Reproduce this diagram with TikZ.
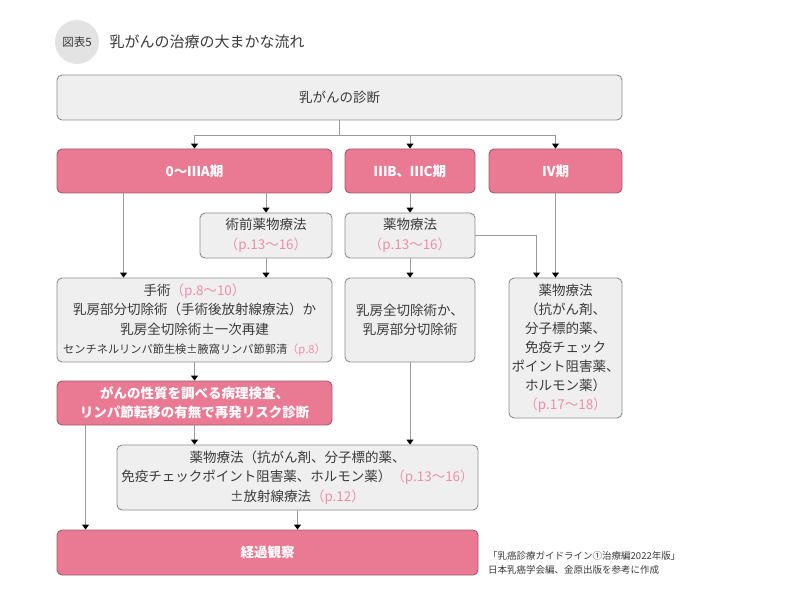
\documentclass[tikz,border=0pt]{standalone}
\usepackage{fontspec}
\setmainfont{Noto Sans CJK JP}
\usetikzlibrary{arrows.meta}
\definecolor{stagepink}{HTML}{EA7A93}
\definecolor{stageedge}{HTML}{A05A6A}
\definecolor{boxgray}{HTML}{EFEFEF}
\definecolor{boxedge}{HTML}{8C8C8C}
\definecolor{linegray}{HTML}{9A9A9A}
\definecolor{refpink}{HTML}{EF8EA8}
\definecolor{inkgray}{HTML}{3A3A3A}
\definecolor{badgegray}{HTML}{E3E3E3}
\newcommand{\pref}[1]{{\color{refpink}#1}}

\begin{document}
\begin{tikzpicture}[x=1pt,y=-1pt,
    box/.style={draw=boxedge, fill=boxgray, rounded corners=5pt, line width=0.9pt,
        text=inkgray, align=center, inner sep=0pt, font=\fontsize{13.5}{19.5}\selectfont},
    stage/.style={box, draw=stageedge, fill=stagepink, text=white,
        font=\fontsize{13.5}{19.5}\selectfont\bfseries},
    conn/.style={draw=linegray, line width=1pt, -{Triangle[width=7pt,length=5pt,color=black]}}]
    \useasboundingbox (0,0) rectangle (800,593);
    % heading
    \node[circle, fill=badgegray, minimum size=44pt, inner sep=0pt, text=inkgray,
        font=\fontsize{11.5}{13}\selectfont] (badge) at (77,42) {図表5};
    \node[anchor=west, text=inkgray, font=\fontsize{15}{18}\selectfont] (title) at (106,42)
        {乳がんの治療の大まかな流れ};
    % boxes
    \node[box, minimum width=565pt, minimum height=45pt] (diag) at (339.5,97.5) {乳がんの診断};
    \node[stage, minimum width=275pt, minimum height=44pt] (stA) at (194.5,171) {0〜ⅢA期};
    \node[stage, minimum width=130pt, minimum height=44pt] (stB) at (410,171) {ⅢB、ⅢC期};
    \node[stage, minimum width=133pt, minimum height=44pt] (stC) at (555.5,171) {Ⅳ期};
    \node[box, minimum width=132pt, minimum height=45pt] (preop) at (266,235.5)
        {術前薬物療法\\\pref{（p.13〜16）}};
    \node[box, minimum width=130pt, minimum height=45pt] (drugB) at (410,235.5)
        {薬物療法\\\pref{（p.13〜16）}};
    \node[box, minimum width=275pt, minimum height=84pt] (surg) at (194.5,320)
        {手術\pref{（p.8〜10）}\\乳房部分切除術（手術後放射線療法）か\\乳房全切除術±一次再建\\
         {\fontsize{11.2}{19.5}\selectfont センチネルリンパ節生検±腋窩リンパ節郭清\pref{（p.8）}}};
    \node[box, minimum width=130pt, minimum height=84pt] (mastB) at (410,320)
        {乳房全切除術か、\\乳房部分切除術};
    \node[box, minimum width=113pt, minimum height=140pt, font=\fontsize{13.5}{19}\selectfont]
        (drugC) at (565.5,348)
        {薬物療法\\（抗がん剤、\\分子標的薬、\\免疫チェック\\ポイント阻害薬、\\ホルモン薬）\\\pref{（p.17〜18）}};
    \node[stage, minimum width=275pt, minimum height=44pt] (path) at (194.5,403)
        {がんの性質を調べる病理検査、\\リンパ節転移の有無で再発リスク診断};
    \node[box, minimum width=361pt, minimum height=65pt] (drugAll) at (297.5,477.5)
        {薬物療法（抗がん剤、分子標的薬、\\免疫チェックポイント阻害薬、ホルモン薬）\pref{（p.13〜16）}\\±放射線療法\pref{（p.12）}};
    \node[stage, minimum width=421pt, minimum height=45pt] (follow) at (267.5,552.5) {経過観察};
    % connectors
    \draw[conn] (diag.south) -- ++(0,15) -| (stA.north);
    \draw[conn] (diag.south) -- ++(0,15) -| (stB.north);
    \draw[conn] (diag.south) -- ++(0,15) -| (stC.north);
    \draw[conn] ([xshift=67pt]stA.south west) -- ([xshift=67pt]surg.north west);
    \draw[conn] (preop.north |- stA.south) -- (preop.north);
    \draw[conn] (preop.south) -- (preop.south |- surg.north);
    \draw[conn] (stB.south) -- (drugB.north);
    \draw[conn] (drugB.south) -- (mastB.north);
    \draw[conn] (drugB.east) -| ([xshift=28pt]drugC.north west);
    \draw[conn] (stC.south) -- (stC.south |- drugC.north);
    \draw[conn] (surg.south) -- (path.north);
    \draw[conn] (path.south) -- (path.south |- drugAll.north);
    \draw[conn] (mastB.south) -- (mastB.south |- drugAll.north);
    \draw[conn] ([xshift=29pt]path.south west) -- ([xshift=29pt]follow.north west);
    \draw[conn] (drugAll.south) -- (drugAll.south |- follow.north);
    % source
    \node[anchor=north west, align=left, text=inkgray, inner sep=0pt,
        font=\fontsize{9.5}{14}\selectfont] (source) at (488,551)
        {「乳癌診療ガイドライン①治療編2022年版」\\日本乳癌学会編、金原出版を参考に作成};
\end{tikzpicture}
\end{document}
